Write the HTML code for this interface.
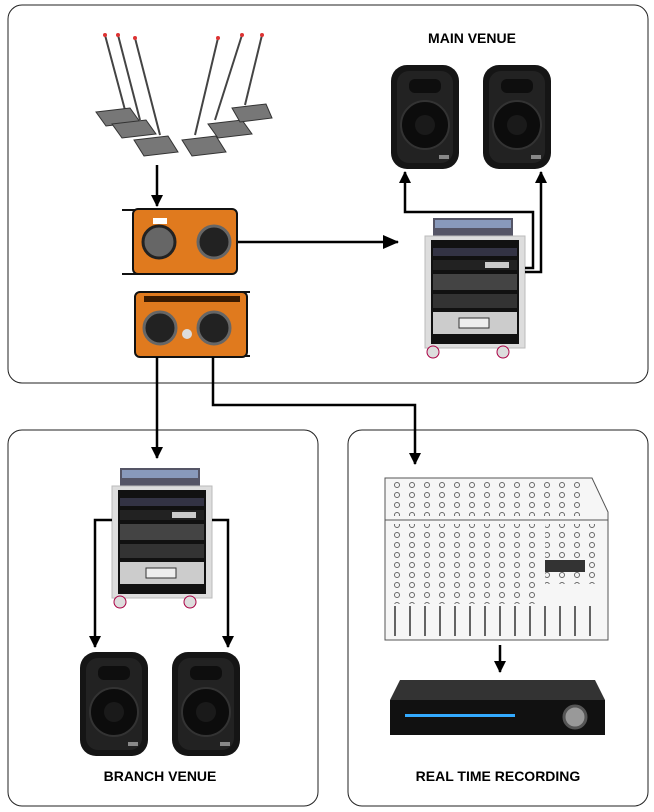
<!DOCTYPE html>
<html><head><style>
body{margin:0;background:#fff;}
svg{display:block;font-family:"Liberation Sans",Arial,sans-serif;}
</style></head><body>
<svg width="654" height="812" viewBox="0 0 654 812" xmlns="http://www.w3.org/2000/svg">
<defs>
<marker id="ah" markerWidth="12" markerHeight="12" refX="11" refY="6" orient="auto" markerUnits="userSpaceOnUse"><path d="M0,0 L12,6 L0,12 Z" fill="#000"/></marker>
<marker id="ah2" markerWidth="16" markerHeight="14" refX="15" refY="7" orient="auto" markerUnits="userSpaceOnUse"><path d="M0,0 L16,7 L0,14 Z" fill="#000"/></marker>
<pattern id="knobs" width="15" height="10" patternUnits="userSpaceOnUse"><circle cx="7" cy="5" r="2.5" fill="none" stroke="#666" stroke-width="1"/></pattern>
<g id="spk">
<rect x="0" y="0" width="68" height="104" rx="16" fill="#151515"/>
<rect x="6" y="6" width="56" height="92" rx="12" fill="#222"/>
<circle cx="34" cy="60" r="24" fill="#0c0c0c" stroke="#333" stroke-width="2"/>
<circle cx="34" cy="60" r="10" fill="#1a1a1a"/>
<rect x="18" y="14" width="32" height="14" rx="6" fill="#0e0e0e"/>
<rect x="48" y="90" width="10" height="4" fill="#888"/>
</g>
<g id="rack">
<rect x="8" y="0" width="80" height="18" fill="#556" />
<rect x="10" y="2" width="76" height="8" fill="#8899bb"/>
<rect x="0" y="18" width="100" height="112" fill="#ddd" stroke="#bbb"/>
<rect x="6" y="22" width="88" height="104" fill="#111"/>
<rect x="8" y="30" width="84" height="8" fill="#334"/>
<rect x="8" y="42" width="84" height="10" fill="#222"/>
<rect x="60" y="44" width="24" height="6" fill="#ccc"/>
<rect x="8" y="56" width="84" height="16" fill="#444"/>
<rect x="8" y="76" width="84" height="14" fill="#333"/>
<rect x="8" y="94" width="84" height="22" fill="#ccc"/>
<rect x="34" y="100" width="30" height="10" fill="#eee" stroke="#333"/>
<circle cx="8" cy="134" r="6" fill="#ddd" stroke="#a04"/>
<circle cx="78" cy="134" r="6" fill="#ddd" stroke="#a04"/>
</g>
</defs>
<rect x="8" y="5" width="640" height="378" rx="14" fill="none" stroke="#222" stroke-width="1"/>
<rect x="8" y="430" width="310" height="376" rx="14" fill="none" stroke="#222" stroke-width="1"/>
<rect x="348" y="430" width="300" height="376" rx="14" fill="none" stroke="#222" stroke-width="1"/>
<text x="472" y="43" font-size="14" font-weight="bold" text-anchor="middle">MAIN VENUE</text>
<text x="160" y="781" font-size="14" font-weight="bold" text-anchor="middle">BRANCH VENUE</text>
<text x="498" y="781" font-size="14" font-weight="bold" text-anchor="middle">REAL TIME RECORDING</text>
<!-- mics -->
<g stroke="#444" stroke-width="2" fill="none">
<path d="M105,35 L125,110"/><path d="M118,35 L140,120"/><path d="M135,38 L160,135"/>
<path d="M218,38 L195,135"/><path d="M242,35 L215,120"/><path d="M262,35 L245,105"/>
</g>
<g fill="#d33"><circle cx="105" cy="35" r="2"/><circle cx="118" cy="35" r="2"/><circle cx="135" cy="38" r="2"/><circle cx="218" cy="38" r="2"/><circle cx="242" cy="35" r="2"/><circle cx="262" cy="35" r="2"/></g>
<g fill="#777" stroke="#333">
<polygon points="96,112 130,108 140,122 106,126"/>
<polygon points="112,124 146,120 156,134 122,138"/>
<polygon points="134,140 168,136 178,152 144,156"/>
<polygon points="182,140 216,136 226,152 192,156"/>
<polygon points="208,124 242,120 252,134 218,138"/>
<polygon points="232,108 266,104 272,118 240,122"/>
</g>
<g stroke="#111" stroke-width="2">
<line x1="122" y1="210" x2="140" y2="210"/><line x1="122" y1="274" x2="140" y2="274"/>
<rect x="133" y="209" width="104" height="65" rx="5" fill="#e07a1e"/>
<line x1="230" y1="292" x2="250" y2="292"/><line x1="230" y1="356" x2="250" y2="356"/>
<rect x="135" y="292" width="112" height="65" rx="5" fill="#e07a1e"/>
</g>
<circle cx="159" cy="242" r="16" fill="#666" stroke="#222" stroke-width="3"/>
<circle cx="214" cy="242" r="16" fill="#222" stroke="#666" stroke-width="3"/>
<rect x="153" y="218" width="14" height="6" fill="#fff"/>
<rect x="144" y="296" width="96" height="6" fill="#3a1a00"/>
<circle cx="160" cy="328" r="16" fill="#222" stroke="#666" stroke-width="3"/>
<circle cx="214" cy="328" r="16" fill="#222" stroke="#666" stroke-width="3"/>
<circle cx="187" cy="334" r="5" fill="#ddd"/>
<use href="#spk" x="391" y="65"/>
<use href="#spk" x="483" y="65"/>
<use href="#rack" x="425" y="218"/>
<g stroke="#000" stroke-width="2.5" fill="none">
<line x1="157" y1="165" x2="157" y2="206" marker-end="url(#ah)"/>
<line x1="238" y1="242" x2="398" y2="242" marker-end="url(#ah2)"/>
<polyline points="525,268 533,268 533,212 405,212 405,172" marker-end="url(#ah)"/>
<polyline points="525,272 541,272 541,172" marker-end="url(#ah)"/>
<line x1="157" y1="357" x2="157" y2="458" marker-end="url(#ah)"/>
<polyline points="213,357 213,405 415,405 415,464" marker-end="url(#ah)"/>
</g>
<use href="#rack" x="112" y="468"/>
<g stroke="#000" stroke-width="2.5" fill="none">
<polyline points="112,520 95,520 95,647" marker-end="url(#ah)"/>
<polyline points="212,520 228,520 228,647" marker-end="url(#ah)"/>
<line x1="500" y1="645" x2="500" y2="672" marker-end="url(#ah)"/>
</g>
<use href="#spk" x="80" y="652"/>
<use href="#spk" x="172" y="652"/>
<!-- mixer -->
<path d="M385,478 L592,478 L608,512 L608,640 L385,640 Z" fill="#f6f6f6" stroke="#555"/>
<rect x="388" y="482" width="200" height="34" fill="url(#knobs)"/>
<line x1="385" y1="520" x2="608" y2="520" stroke="#555"/>
<rect x="388" y="524" width="150" height="80" fill="url(#knobs)"/>
<rect x="545" y="524" width="55" height="60" fill="url(#knobs)"/>
<g stroke="#333" stroke-width="1.5">
<line x1="395" y1="606" x2="395" y2="636"/><line x1="410" y1="606" x2="410" y2="636"/><line x1="425" y1="606" x2="425" y2="636"/>
<line x1="440" y1="606" x2="440" y2="636"/><line x1="455" y1="606" x2="455" y2="636"/><line x1="470" y1="606" x2="470" y2="636"/>
<line x1="485" y1="606" x2="485" y2="636"/><line x1="500" y1="606" x2="500" y2="636"/><line x1="515" y1="606" x2="515" y2="636"/>
<line x1="530" y1="606" x2="530" y2="636"/><line x1="545" y1="606" x2="545" y2="636"/><line x1="560" y1="606" x2="560" y2="636"/>
<line x1="575" y1="606" x2="575" y2="636"/><line x1="590" y1="606" x2="590" y2="636"/>
</g>
<rect x="545" y="560" width="40" height="12" fill="#333"/>
<polygon points="400,680 595,680 605,700 390,700" fill="#333"/>
<rect x="390" y="700" width="215" height="35" fill="#111"/>
<rect x="405" y="714" width="110" height="3" fill="#3af"/>
<circle cx="575" cy="717" r="11" fill="#999" stroke="#555" stroke-width="3"/>
</svg>
</body></html>
